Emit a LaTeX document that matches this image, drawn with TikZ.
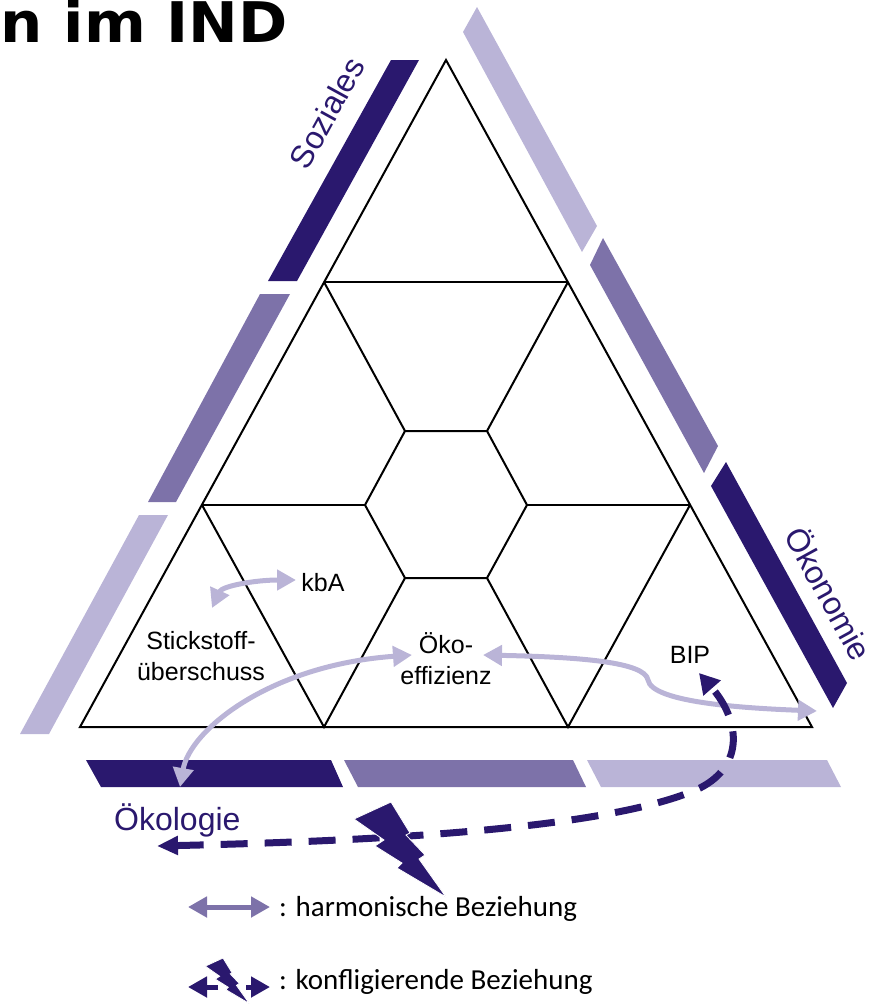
\documentclass[tikz,border=0pt]{standalone}
\usepackage{fontspec}
\setmainfont{Liberation Sans}
\newfontfamily\legendfont{Carlito}
\newfontfamily\titlefont{DejaVu Sans}
\usetikzlibrary{arrows.meta}

\definecolor{darkp}{HTML}{2A186E}
\definecolor{midp}{HTML}{7D72A9}
\definecolor{lightp}{HTML}{BAB4D7}

\tikzset{
  tri/.style={draw=black, line width=2pt, line join=miter},
  cell/.style={inner sep=0pt, align=center, font=\fontsize{25}{31}\selectfont},
  dimlabel/.style={inner sep=0pt, text=darkp, font=\fontsize{32}{36}\selectfont},
  legtext/.style={inner sep=0pt, anchor=base west, font=\legendfont\fontsize{29}{32}\selectfont},
  harm/.style={draw=lightp, line width=5pt, {Triangle[length=19pt,width=20pt]}-{Triangle[length=19pt,width=20pt]}},
  harmleg/.style={draw=midp, line width=5pt, {Triangle[length=19pt,width=20pt]}-{Triangle[length=19pt,width=20pt]}},
  confl/.style={draw=darkp, line width=7pt, dash pattern=on 27pt off 17pt,
    {Triangle[length=21pt,width=18pt]}-{Triangle[length=20pt,width=22pt]}},
  confleg/.style={draw=darkp, line width=5pt, -{Triangle[length=19pt,width=20pt]}},
  zigbolt/.pic={
    \fill[darkp, draw=white, line width=0.8pt]
      (-37,17) -- (0,0) -- (19,31) -- (15,33) -- (34,53) -- (28,57) -- (55,95)
      -- (6,66) -- (11,61) -- (-16,44) -- (-7,38) -- cycle;
  }
}

\begin{document}
\begin{tikzpicture}[x=1pt, y=-1pt]
\useasboundingbox (0,0) rectangle (879,1005);

% heading fragment
\node[anchor=base east, inner sep=0pt, font=\titlefont\bfseries\fontsize{56}{60}\selectfont]
  (title) at (288,42) {\scalebox{1.06}[1]{n im IND}};

% dimension bars: Soziales (left side)
\fill[darkp]  (391,60) -- (419,60) -- (297,281) -- (268,281) -- cycle;
\fill[midp]   (260,294) -- (290,294) -- (176,502) -- (148,502) -- cycle;
\fill[lightp] (139,515) -- (168,515) -- (49,734) -- (20,734) -- cycle;

% dimension bars: Oekonomie (right side)
\fill[lightp] (477,7) -- (597,226) -- (582,252) -- (463,32) -- cycle;
\fill[midp]   (603,238) -- (718,446) -- (704,473) -- (590,265) -- cycle;
\fill[darkp]  (726,462) -- (847,683) -- (833,708) -- (711,486) -- cycle;

% dimension bars: Oekologie (bottom)
\fill[darkp]  (86,760) -- (331,760) -- (343,787) -- (101,787) -- cycle;
\fill[midp]   (344,760) -- (573,760) -- (586,787) -- (358,787) -- cycle;
\fill[lightp] (587,760) -- (827,760) -- (841,787) -- (601,787) -- cycle;

% triangle grid
\coordinate (A) at (446,60);
\coordinate (L) at (80,727);
\coordinate (R) at (812,727);
\coordinate (l1) at (324,282);
\coordinate (l2) at (202,505);
\coordinate (r1) at (568,282);
\coordinate (r2) at (690,505);
\coordinate (b1) at (324,727);
\coordinate (b2) at (568,727);
\coordinate (h1) at (405,431);
\coordinate (h2) at (487,431);
\coordinate (h3) at (527,505);
\coordinate (h4) at (487,578);
\coordinate (h5) at (405,578);
\coordinate (h6) at (365,505);

\draw[tri] (A) -- (L) -- (R) -- cycle;
\draw[tri] (l1) -- (r1);
\draw[tri] (h1) -- (h2) -- (h3) -- (h4) -- (h5) -- (h6) -- cycle;
\draw[tri] (l1) -- (h1);
\draw[tri] (r1) -- (h2);
\draw[tri] (l2) -- (h6);
\draw[tri] (h3) -- (r2);
\draw[tri] (l2) -- (b1) -- (h5);
\draw[tri] (h4) -- (b2) -- (r2);

% dimension labels
\node[dimlabel, rotate=61.2] (soz) at (327,113) {Soziales};
\node[dimlabel, rotate=-61.2] (oekon) at (830,593) {Ökonomie};
\node[dimlabel, anchor=base west] (oekol) at (114,830) {Ökologie};

% indicator labels
\node[cell] (stick) at (201,656) {Stickstoff-\\überschuss};
\node[cell, anchor=base] (kba) at (323,591) {kbA};
\node[cell] (eff) at (446,659) {Öko-\\effizienz};
\node[cell, anchor=base] (bip) at (690,663) {BIP};

% harmonic relations
\coordinate (kbL) at (212,608);
\coordinate (kbR) at (296,580);
\draw[harm] (kbL) .. controls (222,586) and (255,580) .. (kbR);

\coordinate (ecoBar) at (180,787);
\coordinate (effL) at (412,655);
\draw[harm] (ecoBar) .. controls (190,730) and (270,665) .. (effL);

\coordinate (effR) at (483,655);
\coordinate (oekR) at (817,711);
\draw[harm] (effR) .. controls (580,657) and (645,662) .. (648,680)
                   .. controls (652,702) and (740,708) .. (oekR);

% conflicting relation
\coordinate (conL) at (157,846);
\coordinate (conB) at (699,673);
\draw[confl] (conL) .. controls (420,840) and (620,825) .. (700,788)
                    .. controls (745,765) and (740,720) .. (conB);
\pic at (391,802) {zigbolt};

% legend
\coordinate (hl1) at (188,907);
\coordinate (hl2) at (270,907);
\draw[harmleg] (hl1) -- (hl2);
\node[legtext] (leg1) at (279,916) {: harmonische Beziehung};

\coordinate (cl0) at (218,987);
\coordinate (cl1) at (188,987);
\coordinate (cr0) at (246,987);
\coordinate (cr1) at (270,987);
\draw[confleg] (cl0) -- (cl1);
\draw[confleg] (cr0) -- (cr1);
\pic[scale=0.48] at (223,958) {zigbolt};
\node[legtext] (leg2) at (279,989) {: konfligierende Beziehung};
\end{tikzpicture}
\end{document}
